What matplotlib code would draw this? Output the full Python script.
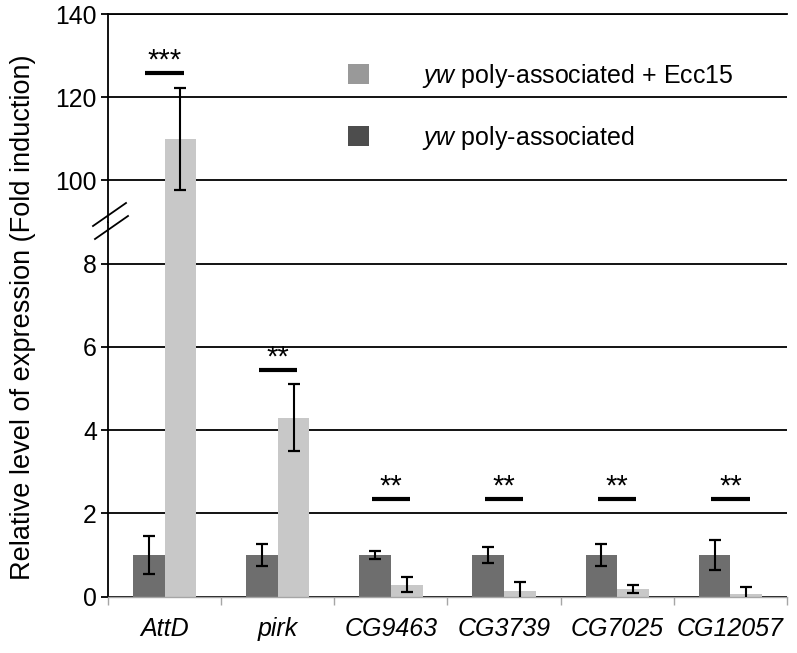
import matplotlib
matplotlib.use("Agg")
import matplotlib.pyplot as plt
from matplotlib.patches import Patch
from matplotlib.lines import Line2D
import numpy as np

plt.rcParams["font.family"] = ["Liberation Sans", "DejaVu Sans"]
plt.rcParams["mathtext.fontset"] = "custom"
plt.rcParams["mathtext.rm"] = "Liberation Sans"
plt.rcParams["mathtext.it"] = "Liberation Sans:italic"

# values
genes = ["AttD", "pirk", "CG9463", "CG3739", "CG7025", "CG12057"]
poly = [1.0, 1.0, 1.0, 1.0, 1.0, 1.0]
poly_err = [0.46, 0.26, 0.10, 0.20, 0.26, 0.36]
ecc15 = [110.0, 4.3, 0.28, 0.13, 0.18, 0.07]
ecc15_err = [12.2, 0.8, 0.18, 0.21, 0.10, 0.17]
sig_labels = ["***", "**", "**", "**", "**", "**"]
sig_heights = [125.8, 5.44, 2.34, 2.34, 2.34, 2.34]
lower_ticks = [0, 2, 4, 6, 8]
upper_ticks = [100, 120, 140]

dark = "#6e6e6e"
light = "#c8c8c8"
W, H = 797, 653


def fx(px):
    return px / W


def fy(py):
    return 1 - py / H


fig = plt.figure(figsize=(W / 100, H / 100), dpi=100)
left, right, bottom, brk, top = 108, 787, 596.5, 222, 14
ax_lo = fig.add_axes([fx(left), fy(bottom), (right - left) / W, (bottom - brk) / H])
ax_hi = fig.add_axes([fx(left), fy(brk), (right - left) / W, (brk - top) / H])

x = np.arange(len(genes))
w = 0.28
for ax in (ax_lo, ax_hi):
    ax.bar(x - w / 2, poly, w, color=dark, zorder=2)
    ax.bar(x + w / 2, ecc15, w, color=light, zorder=2)
    ax.errorbar(x - w / 2, poly, yerr=poly_err, fmt="none", ecolor="black",
                elinewidth=1.5, capsize=4.5, capthick=1.6, zorder=3)
    ax.errorbar(x + w / 2, ecc15, yerr=ecc15_err, fmt="none", ecolor="black",
                elinewidth=1.5, capsize=4.5, capthick=1.6, zorder=3)
    ax.set_xlim(-0.5, len(genes) - 0.5)
    ax.set_axisbelow(True)
    ax.yaxis.grid(True, color="black", lw=1.3)
    ax.spines["right"].set_visible(False)
    ax.spines["left"].set_color("black")
    ax.spines["left"].set_linewidth(1.3)
    ax.tick_params(axis="y", direction="out", length=5, width=1.3,
                   labelsize=17.8, pad=3)

ax_lo.set_ylim(0, 9)
ax_lo.set_yticks(lower_ticks)
ax_hi.set_ylim(90, 140)
ax_hi.set_yticks(upper_ticks)

ax_lo.spines["top"].set_visible(False)
ax_lo.spines["bottom"].set_color("#a6a6a6")
ax_lo.spines["bottom"].set_linewidth(1.0)
ax_lo.set_xticks(np.arange(len(genes) + 1) - 0.5)
ax_lo.set_xticklabels([])
ax_lo.tick_params(axis="x", which="major", direction="out", length=6,
                  width=1.0, color="#a6a6a6")
ax_lo.set_xticks(x, minor=True)
ax_lo.set_xticklabels(genes, minor=True, fontsize=18, style="italic")
ax_lo.tick_params(axis="x", which="minor", length=0, pad=14.5)

ax_hi.spines["bottom"].set_visible(False)
ax_hi.spines["top"].set_color("black")
ax_hi.spines["top"].set_linewidth(1.3)
ax_hi.set_xticks([])

for i, (lab, h) in enumerate(zip(sig_labels, sig_heights)):
    ax = ax_hi if h > 9 else ax_lo
    ax.plot([x[i] - 0.17, x[i] + 0.17], [h, h], color="black", lw=3,
            solid_capstyle="butt", zorder=4)
    ax.annotate(lab, (x[i], h), xytext=(0, 3.5), textcoords="offset points",
                ha="center", va="baseline", fontsize=21)

handles = [Patch(facecolor="#999999"), Patch(facecolor="#4d4d4d")]
labels = [r"$\mathit{yw}$ poly-associated + Ecc15", r"$\mathit{yw}$ poly-associated"]
ax_hi.legend(handles, labels, loc="upper left", bbox_to_anchor=(fx(348), fy(62)),
             bbox_transform=fig.transFigure, frameon=False, fontsize=18,
             borderpad=0, borderaxespad=0, handlelength=0.84, handleheight=0.84,
             handletextpad=2.1, labelspacing=1.35)

fig.text(fx(23), fy(317), "Relative level of expression (Fold induction)",
         rotation=90, ha="center", va="center", fontsize=19.5)

# axis break marks
fig.add_artist(Line2D([fx(93), fx(126)], [fy(226), fy(203)], color="black", lw=1.3))
fig.add_artist(Line2D([fx(95), fx(128)], [fy(239), fy(216)], color="black", lw=1.3))

fig.savefig("out.png", dpi=100)
